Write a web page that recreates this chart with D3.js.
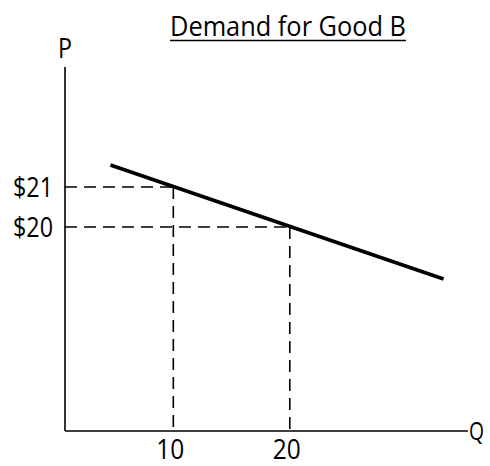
<!DOCTYPE html>
<html>
<head>
<meta charset="utf-8">
<script src="https://cdn.jsdelivr.net/npm/d3@7"></script>
<style>
  html, body { margin: 0; padding: 0; background: #fff; }
  svg { display: block; }
  text { font-family: "Open Sans", "Noto Sans", "Liberation Sans", Arial, sans-serif; fill: #000; }
</style>
</head>
<body>
<svg id="chart" width="490" height="466"></svg>
<script>
// ---- data ----
const title = "Demand for Good B";
const axisLabels = { x: "Q", y: "P" };
const demandQ = [4.6, 33.2];
const demandP = [21.55, 18.7];
const refQ = [10, 20];          // quantities marked
const refP = [21, 20];          // matching prices
const xTickLabels = ["10", "20"];
const yTickLabels = ["$21", "$20"];

// ---- layout ----
const x = d3.scaleLinear().domain([0.7, 35.3]).range([65, 468]);
const y = d3.scaleLinear().domain([14.9, 24]).range([431, 67]);
const svg = d3.select("#chart");

// title
svg.append("text")
  .attr("x", 288).attr("y", 36)
  .attr("text-anchor", "middle")
  .attr("font-size", 27)
  .attr("textLength", 236).attr("lengthAdjust", "spacingAndGlyphs")
  .text(title);
svg.append("line")
  .attr("x1", 170).attr("x2", 406).attr("y1", 40.5).attr("y2", 40.5)
  .attr("stroke", "#000").attr("stroke-width", 1.6);

// axes
svg.append("line")
  .attr("x1", x.range()[0]).attr("x2", x.range()[0])
  .attr("y1", y.range()[1]).attr("y2", y.range()[0])
  .attr("stroke", "#000").attr("stroke-width", 1.6);
svg.append("line")
  .attr("x1", x.range()[0]).attr("x2", x.range()[1])
  .attr("y1", y.range()[0]).attr("y2", y.range()[0])
  .attr("stroke", "#000").attr("stroke-width", 1.6);

svg.append("text").attr("x", 65).attr("y", 58).attr("text-anchor", "middle")
  .attr("font-size", 27).attr("textLength", 14).attr("lengthAdjust", "spacingAndGlyphs")
  .text(axisLabels.y);
svg.append("text").attr("x", 469).attr("y", 440).attr("text-anchor", "start")
  .attr("font-size", 26).attr("textLength", 15).attr("lengthAdjust", "spacingAndGlyphs")
  .text(axisLabels.x);

// reference dashed lines
const refs = refQ.map((q, i) => ({ q, p: refP[i] }));
svg.selectAll(".hdash").data(refs).enter().append("line")
  .attr("x1", x.range()[0]).attr("x2", d => x(d.q))
  .attr("y1", d => y(d.p)).attr("y2", d => y(d.p))
  .attr("stroke", "#000").attr("stroke-width", 1.6).attr("stroke-dasharray", "12,7");
svg.selectAll(".vdash").data(refs).enter().append("line")
  .attr("x1", d => x(d.q)).attr("x2", d => x(d.q))
  .attr("y1", d => y(d.p)).attr("y2", y.range()[0])
  .attr("stroke", "#000").attr("stroke-width", 1.6).attr("stroke-dasharray", "12,7");

// demand line
const pts = demandQ.map((q, i) => [x(q), y(demandP[i])]);
svg.append("path").attr("d", d3.line()(pts))
  .attr("fill", "none").attr("stroke", "#000").attr("stroke-width", 3.8);

// tick labels
svg.selectAll(".ylab").data(refP).enter().append("text")
  .attr("x", 53).attr("y", d => y(d) + 9.5)
  .attr("text-anchor", "end").attr("font-size", 27)
  .attr("textLength", 40).attr("lengthAdjust", "spacingAndGlyphs")
  .text((d, i) => yTickLabels[i]);
svg.selectAll(".xlab").data(refQ).enter().append("text")
  .attr("x", d => x(d) - 3).attr("y", 459)
  .attr("text-anchor", "middle").attr("font-size", 27)
  .attr("textLength", 28).attr("lengthAdjust", "spacingAndGlyphs")
  .text((d, i) => xTickLabels[i]);
</script>
</body>
</html>
